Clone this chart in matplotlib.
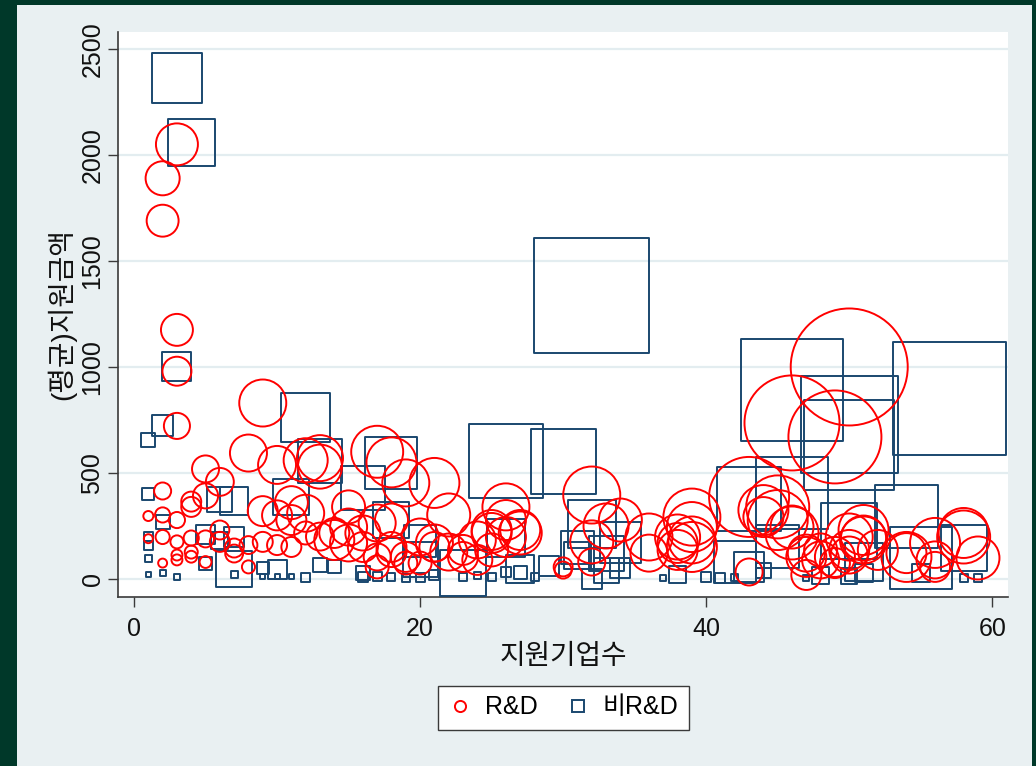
import matplotlib
matplotlib.use('Agg')
import matplotlib.pyplot as plt
from matplotlib.lines import Line2D
from matplotlib.patches import Rectangle

plt.rcParams['font.family'] = ['Liberation Sans', 'Noto Sans CJK KR']

# ---------------- data ----------------
x_ticks = [0, 20, 40, 60]
y_ticks = [0, 500, 1000, 1500, 2000, 2500]
x_label = "지원기업수"
y_label = "(평균)지원금액"
series_names = ["R&D", "비R&D"]

# R&D (circles): x = number of supported firms, y = average support, w = bubble weight
rd_x = [1, 1,
        2, 2, 2, 2, 2, 2,
        3, 3, 3, 3, 3, 3, 3, 3,
        4, 4, 4, 4, 4,
        5, 5, 5, 5,
        6, 6, 6,
        7, 7,
        8, 8, 8,
        9, 9, 9,
        10, 10, 10,
        11, 11, 11,
        12, 12, 12,
        13, 13, 13,
        14, 14,
        15, 15, 15,
        16, 16,
        17, 17, 17, 17,
        18, 18, 18, 18,
        19, 19, 19,
        20, 20,
        21, 21, 21,
        22, 22,
        23, 23,
        24, 24,
        25, 25, 25,
        26, 26, 26,
        27, 27,
        30, 30,
        32, 32, 32,
        33, 34,
        36, 36,
        38, 38, 38,
        39, 39, 39, 39,
        43, 43,
        44, 44,
        45, 45,
        46, 46, 46,
        47, 47, 47,
        48, 48,
        49, 49, 49,
        50, 50, 50, 50,
        51, 51, 51,
        52,
        54, 54,
        56, 56, 56,
        58, 58,
        59]
rd_y = [297, 190,
        1890, 1690, 415, 302, 198, 75,
        2050, 1175, 980, 722, 278, 175, 113, 90,
        365, 340, 193, 127, 105,
        519, 392, 189, 80,
        458, 231, 175,
        146, 120,
        594, 160, 57,
        830, 320, 175,
        538, 300, 160,
        360, 278, 151,
        560, 310, 217,
        570, 530, 200,
        184, 217,
        340, 170, 245,
        151, 217,
        600, 264, 104, 57,
        550, 278, 151, 127,
        453, 104, 75,
        198, 75,
        453, 151, 170,
        302, 127,
        137, 104,
        90, 184,
        231, 137, 217,
        340, 278, 198,
        231, 217,
        57, 42,
        396, 175, 80,
        250, 278,
        198, 122,
        170, 137, 198,
        292, 245, 184, 151,
        387, 33,
        325, 292,
        340, 278,
        736, 217, 245,
        104, 122, 19,
        90, 137,
        670, 104, 75,
        1000, 137, 198, 113,
        231, 184, 193,
        137,
        104, 122,
        170, 90, 57,
        198, 217,
        99]
rd_w = [1.0, 0.8,
        11.6, 10.2, 2.9, 2.3, 2.0, 0.8,
        17.6, 10.2, 8.4, 6.8, 2.6, 1.7, 1.2, 1.2,
        4.0, 4.0, 2.3, 1.7, 1.4,
        7.3, 6.3, 2.9, 1.4,
        7.8, 3.6, 4.0,
        3.6, 3.2,
        13.7, 3.2, 1.7,
        22.1, 9.0, 4.0,
        14.4, 9.0, 4.0,
        10.9, 9.0, 4.0,
        19.4, 13.7, 5.3,
        21.2, 19.4, 7.8,
        16.0, 9.0,
        10.9, 13.7, 13.7,
        9.0, 12.3,
        27.0, 13.7, 7.3, 5.3,
        25.0, 10.9, 9.0, 9.0,
        22.1, 9.0, 5.3,
        13.7, 5.3,
        25.0, 9.0, 13.7,
        18.5, 13.7,
        9.0, 9.0,
        9.0, 13.7,
        16.0, 10.9, 16.0,
        22.1, 16.0, 16.0,
        16.0, 18.5,
        3.6, 2.9,
        32.5, 18.5, 7.3,
        20.3, 18.5,
        22.1, 13.7,
        16.0, 16.0, 20.3,
        32.5, 25.0, 22.1, 25.0,
        64.0, 7.3,
        25.0, 16.0,
        39.7, 36.0,
        90.3, 28.1, 18.5,
        16.0, 13.7, 9.0,
        13.7, 10.9,
        86.5, 16.0, 9.0,
        136.9, 16.0, 22.1, 13.7,
        25.0, 22.1, 20.3,
        16.0,
        25.0, 16.0,
        25.0, 13.7, 9.0,
        28.1, 25.0,
        18.5]

# non-R&D (squares)
nr_x = [1, 1, 1, 1, 1, 1,
        2, 2, 2,
        3, 3, 3,
        4,
        5, 5,
        6, 6,
        7, 7, 7, 7,
        9, 9,
        10, 10,
        11, 11,
        12, 12,
        13, 13,
        14,
        16, 16, 16,
        17,
        18, 18, 18,
        19,
        20, 20, 20,
        21,
        23, 23,
        24, 25,
        26, 26, 26,
        27, 27,
        28, 29, 30,
        31, 31,
        32, 32, 32,
        33, 33,
        34, 34,
        37, 38, 40, 41,
        42, 42,
        43, 43,
        44, 45,
        46, 46,
        47, 48,
        50, 50, 50, 50,
        51, 51,
        54,
        55, 55,
        57,
        58, 58,
        59]
nr_y = [656, 400, 200, 160, 95, 20,
        722, 269, 30,
        2363, 1000, 10,
        2061,
        208, 75,
        377, 180,
        368, 198, 45, 20,
        50, 10,
        45, 10,
        386, 10,
        760, 5,
        557, 66,
        60,
        429, 30, 10,
        10,
        547, 278, 10,
        5,
        180, 90, 5,
        20,
        30, 10,
        15, 10,
        556, 193, 35,
        30, 45,
        10, 60, 556,
        150, 113,
        1335, 260, 0,
        120, 40,
        170, 50,
        5, 20, 10, 5,
        80, 5,
        377, 55,
        40, 151,
        890, 406,
        5, 15,
        730, 632, 226, 15,
        80, 30,
        297,
        100, 30,
        853,
        146, 5,
        5]
nr_w = [1.96, 1.44, 0.81, 0.81, 0.49, 0.25,
        4.41, 1.96, 0.36,
        25.0, 8.41, 0.36,
        22.09,
        3.61, 1.69,
        6.25, 2.89,
        7.84, 4.0, 12.96, 0.49,
        1.44, 0.25,
        3.61, 0.25,
        12.96, 0.25,
        24.01, 0.81,
        19.36, 1.96,
        1.69,
        19.36, 1.96, 1.0,
        0.81,
        27.04, 12.96, 0.64,
        0.64,
        10.24, 12.25, 0.81,
        1.0,
        21.16, 0.64,
        0.49, 0.64,
        54.76, 14.44, 1.0,
        1.69, 7.84,
        0.64, 4.0, 42.25,
        10.89, 7.29,
        132.25, 23.04, 4.0,
        12.25, 6.25,
        16.81, 4.0,
        0.36, 2.89, 1.0, 1.0,
        17.64, 0.49,
        40.96, 9.0,
        2.25, 18.49,
        104.04, 51.84,
        0.36, 2.89,
        94.09, 81.0, 31.36, 2.56,
        14.44, 3.24,
        39.69,
        38.44, 3.24,
        127.69,
        21.16, 0.64,
        0.64]

# ---------------- figure ----------------
W, H = 1036, 766
RED = '#ff0000'
NAVY = '#1a476f'
AXC = '#3a3a3a'
FS = 18
FS_KR = 20

fig = plt.figure(figsize=(W / 100, H / 100), dpi=100, facecolor='#003829')
fig.patches.append(Rectangle((17 / W, 0), (1032 - 17) / W, (H - 5) / H,
                             transform=fig.transFigure, facecolor='#e9f0f2',
                             edgecolor='none', zorder=-10))

ax = fig.add_axes([118 / W, 1 - 597 / H, (1008 - 118) / W, (597 - 32) / H])
ax.set_zorder(1)
ax.set_facecolor('white')
ax.set_xlim(-1.12, 61.1)
ax.set_ylim(-85, 2580)

bubble_scale = 51.84  # points^2 per unit weight

ax.scatter(nr_x, nr_y, s=[w * bubble_scale for w in nr_w], marker='s',
           facecolors='none', edgecolors=NAVY, linewidths=1.4, zorder=3)
ax.scatter(rd_x, rd_y, s=[w * bubble_scale for w in rd_w], marker='o',
           facecolors='none', edgecolors=RED, linewidths=1.4, zorder=4)

ax.set_xticks(x_ticks)
ax.set_yticks(y_ticks)
ax.set_yticklabels([str(v) for v in y_ticks], rotation=90, va='center')
ax.tick_params(axis='both', length=7.2, width=1.0, color=AXC, labelsize=FS,
               labelcolor='#111111')
ax.tick_params(axis='y', pad=2.5)
ax.tick_params(axis='x', pad=7)
ax.yaxis.grid(True, color='#e3edf0', linewidth=1.6)
ax.set_axisbelow(True)
for side in ('top', 'right'):
    ax.spines[side].set_visible(False)
for side in ('left', 'bottom'):
    ax.spines[side].set_color(AXC)
    ax.spines[side].set_linewidth(1.2)

fig.text(62 / W, 1 - 314 / H, y_label, rotation=90, ha='center', va='center',
         fontsize=FS_KR, color='#111111')
fig.text(563 / W, 1 - 657 / H, x_label, ha='center', va='center',
         fontsize=FS_KR, color='#111111')

handles = [Line2D([], [], linestyle='none', marker='o', markersize=8,
                  markerfacecolor='none', markeredgecolor=RED, markeredgewidth=1.4),
           Line2D([], [], linestyle='none', marker='s', markersize=8,
                  markerfacecolor='none', markeredgecolor=NAVY, markeredgewidth=1.4)]
leg = fig.legend(handles, series_names, loc='center',
                 bbox_to_anchor=(563 / W, 1 - 707.5 / H), ncol=2, frameon=True,
                 fancybox=False, edgecolor=AXC, facecolor='white', framealpha=1,
                 fontsize=FS, handlelength=1.0, handletextpad=0.5,
                 columnspacing=1.1, borderpad=0.4)
leg.get_frame().set_linewidth(1.0)

fig.savefig('out.png', dpi=100, facecolor=fig.get_facecolor())
